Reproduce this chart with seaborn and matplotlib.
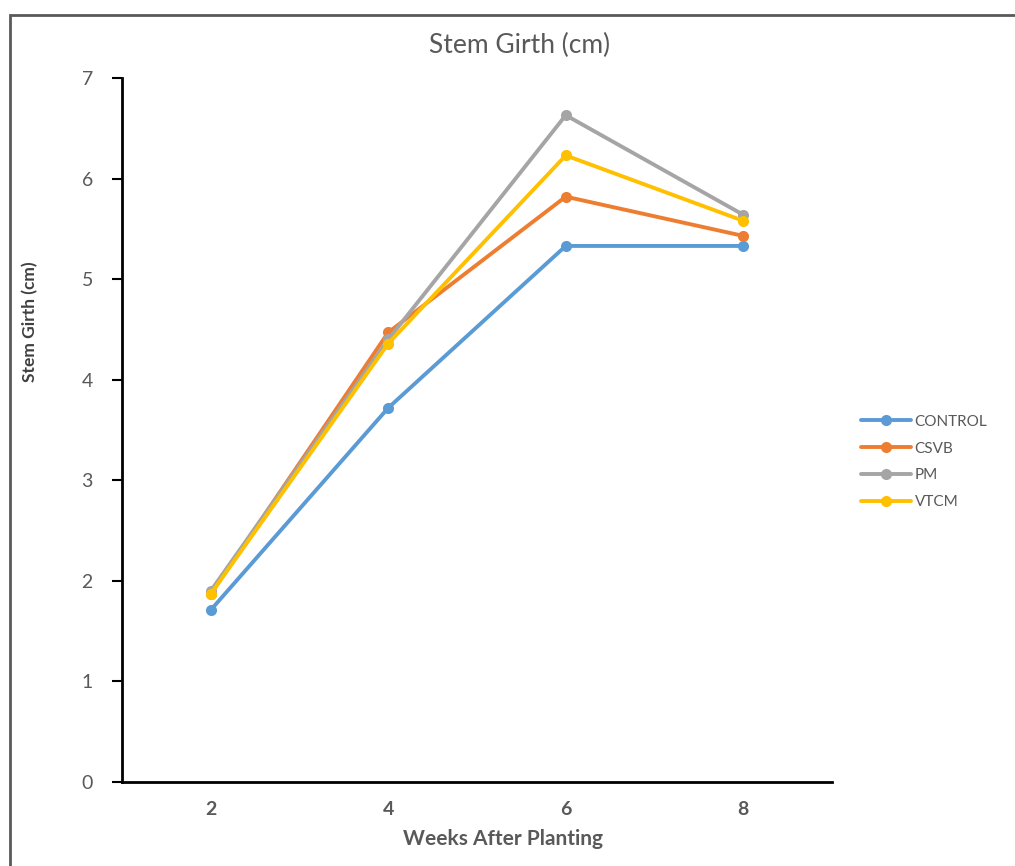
import matplotlib
matplotlib.use("Agg")
import matplotlib.pyplot as plt
import seaborn as sns
import pandas as pd
from matplotlib.patches import Rectangle

weeks = [2, 4, 6, 8]
control = [1.71, 3.72, 5.33, 5.33]
csvb = [1.87, 4.47, 5.82, 5.43]
pm = [1.90, 4.40, 6.63, 5.64]
vtcm = [1.87, 4.36, 6.23, 5.58]
series_names = ["CONTROL", "CSVB", "PM", "VTCM"]
colors = ["#5B9BD5", "#ED7D31", "#A5A5A5", "#FFC000"]

df = pd.DataFrame({
    "Week": weeks * 4,
    "Value": control + csvb + pm + vtcm,
    "Treatment": sum([[n] * 4 for n in series_names], []),
})

sns.set_style("white")
plt.rcParams['font.family'] = ['Lato', 'DejaVu Sans']

fig = plt.figure(figsize=(10.15, 8.66), dpi=100)
ax = fig.add_axes([122/1015, 1-782/866, (832-122)/1015, (782-78)/866])

sns.lineplot(data=df, x="Week", y="Value", hue="Treatment", palette=colors,
             marker="o", markersize=8, markeredgewidth=0, linewidth=2.8, ax=ax)

ax.set_xlim(1, 9)
ax.set_ylim(0, 7)
ax.set_xticks(weeks)
ax.set_yticks(range(0, 8))
ax.tick_params(axis='y', length=7, width=1.5, color='black', labelsize=14,
               labelcolor='#595959', pad=14, direction='out', left=True)
ax.tick_params(axis='x', length=0, labelsize=14, labelcolor='#595959', pad=14)
for lbl in ax.get_xticklabels():
    lbl.set_fontweight('bold')
for s in ['top', 'right']:
    ax.spines[s].set_visible(False)
for s in ['left', 'bottom']:
    ax.spines[s].set_color('black')
    ax.spines[s].set_linewidth(2)

ax.set_xlabel("Weeks After Planting", fontsize=15, fontweight='bold', color='#595959', labelpad=8)
ax.xaxis.set_label_coords((503-122)/710, -0.067)
ax.set_ylabel("Stem Girth (cm)", fontsize=12.5, fontweight='bold', color='#404040')
ax.yaxis.set_label_coords((38-122)/710, (782-322)/704)
fig.text(520/1015, 1-45/866, "Stem Girth (cm)", fontsize=19, color='#595959', ha='center', va='center')

leg = ax.legend(loc='center left', bbox_to_anchor=(858/1015, 1-462/866), bbox_transform=fig.transFigure,
                frameon=False, fontsize=11, handlelength=3.3, labelspacing=0.85, handletextpad=0.2,
                borderpad=0.2, borderaxespad=0)
for t in leg.get_texts():
    t.set_color('#595959')

fig.patches.append(Rectangle((10/1015, -0.01), 1.1, 1 - 15/866 + 0.01, transform=fig.transFigure,
                             fill=False, edgecolor='#595959', linewidth=2))

fig.savefig("out.png", dpi=100)
